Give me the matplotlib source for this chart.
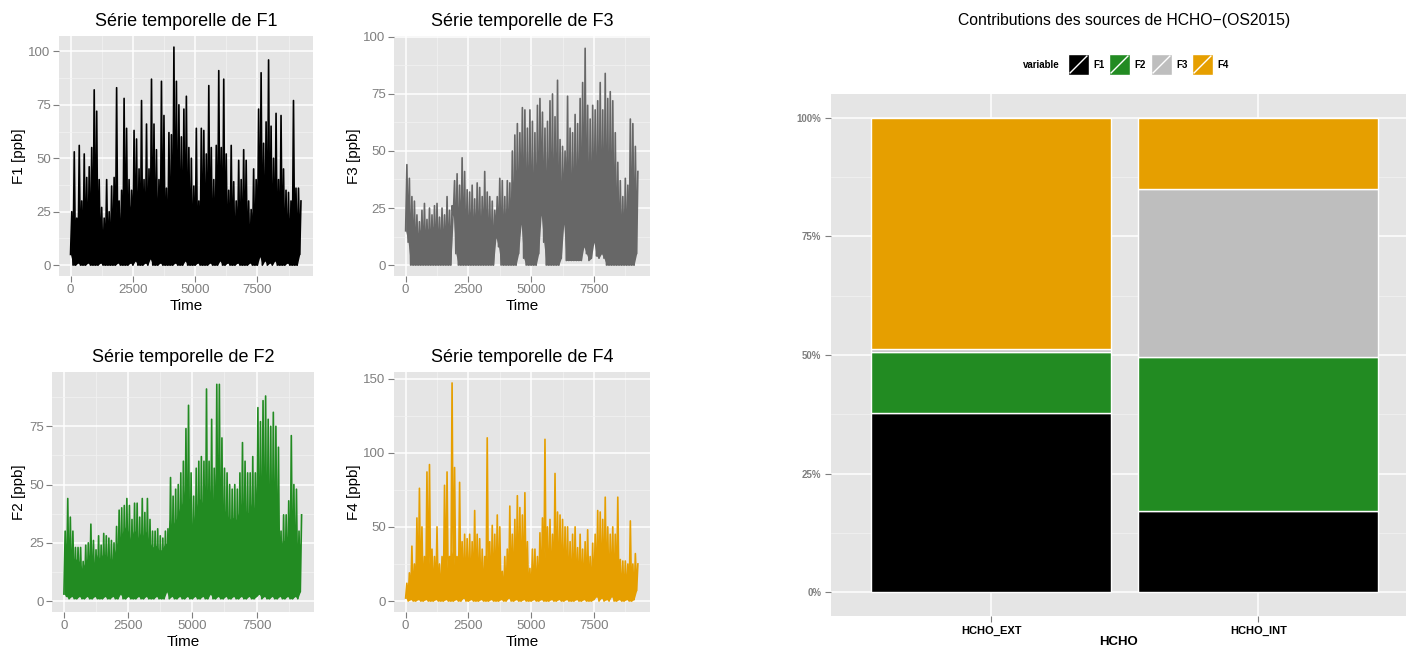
import numpy as np
import matplotlib.pyplot as plt
from matplotlib.patches import Rectangle
from matplotlib.lines import Line2D
from matplotlib.ticker import MultipleLocator, FixedLocator

plt.rcParams['font.family'] = ['Liberation Sans', 'DejaVu Sans']

# sample times (one bin every 100 steps)
time = np.arange(0, 9300, 100)

# per bin: highest spike, lowest value and top of the dense band
f1_peak = [25, 53, 22, 56, 30, 52, 41, 46, 55, 82, 72, 40, 27, 22, 40, 25, 37, 41, 83, 30,
           35, 78, 64, 40, 35, 63, 59, 45, 77, 40, 66, 45, 87, 66, 54, 40, 86, 70, 36, 62,
           61, 102, 86, 75, 60, 73, 79, 55, 50, 37, 64, 30, 64, 63, 52, 84, 55, 40, 56, 91,
           55, 87, 52, 35, 56, 39, 30, 49, 40, 54, 49, 30, 26, 45, 40, 73, 90, 57, 67, 96,
           65, 50, 71, 40, 70, 45, 35, 34, 30, 77, 36, 36, 30]
f1_low = [5, 0, 0, 1, 0, 0, 0, 1, 0, 0, 0, 0, 1, 0, 0, 0, 0, 0, 0, 1,
          0, 0, 0, 0, 1, 0, 2, 0, 0, 0, 1, 0, 3, 0, 0, 0, 1, 0, 0, 0,
          0, 0, 1, 0, 0, 0, 2, 0, 0, 0, 0, 1, 0, 0, 0, 0, 1, 0, 0, 0,
          2, 0, 0, 1, 0, 0, 0, 1, 0, 0, 0, 0, 1, 0, 0, 0, 4, 0, 2, 0,
          1, 0, 2, 0, 0, 0, 0, 1, 0, 0, 0, 0, 5]
f1_band = [22, 20, 18, 22, 20, 24, 20, 22, 26, 30, 28, 20, 18, 16, 20, 18, 20, 22, 30, 18,
           20, 35, 30, 25, 28, 35, 32, 30, 35, 30, 35, 30, 40, 38, 35, 30, 40, 35, 22, 30,
           35, 50, 45, 40, 40, 45, 42, 35, 30, 25, 30, 22, 30, 35, 30, 35, 30, 25, 35, 45,
           40, 45, 35, 25, 30, 25, 20, 28, 25, 30, 28, 20, 18, 25, 25, 40, 45, 40, 42, 50,
           45, 35, 40, 30, 35, 28, 25, 22, 22, 30, 25, 22, 20]

f2_peak = [30, 44, 36, 30, 23, 23, 23, 17, 24, 25, 33, 26, 22, 28, 24, 29, 28, 27, 26, 25,
           32, 39, 40, 41, 44, 41, 35, 42, 42, 36, 44, 38, 44, 35, 30, 30, 31, 28, 27, 30,
           31, 53, 45, 48, 50, 55, 60, 74, 84, 55, 45, 57, 60, 62, 60, 91, 60, 78, 57, 93,
           93, 70, 57, 55, 50, 48, 50, 48, 55, 68, 60, 55, 55, 62, 55, 83, 77, 86, 88, 78,
           75, 81, 75, 66, 30, 37, 37, 43, 71, 50, 48, 30, 37]
f2_low = [3, 2, 1, 2, 1, 1, 2, 1, 1, 2, 1, 1, 2, 1, 1, 1, 2, 1, 1, 2,
          1, 1, 3, 1, 1, 2, 1, 1, 1, 2, 1, 1, 2, 1, 1, 1, 2, 1, 1, 1,
          4, 1, 2, 1, 1, 2, 1, 1, 2, 1, 1, 2, 1, 1, 2, 1, 1, 3, 1, 1,
          2, 1, 1, 2, 1, 1, 2, 1, 1, 2, 1, 1, 2, 1, 1, 2, 3, 1, 2, 1,
          1, 2, 1, 1, 2, 1, 1, 2, 1, 1, 2, 1, 4]
f2_band = [22, 25, 25, 20, 18, 18, 17, 14, 16, 18, 20, 18, 16, 20, 18, 20, 20, 19, 18, 18,
           22, 26, 28, 30, 32, 30, 26, 30, 30, 27, 30, 28, 30, 26, 24, 23, 24, 22, 22, 24,
           25, 35, 32, 34, 36, 40, 42, 48, 50, 38, 32, 38, 42, 44, 42, 50, 42, 48, 40, 55,
           55, 45, 40, 38, 36, 35, 36, 35, 38, 42, 40, 38, 38, 42, 40, 50, 50, 55, 55, 50,
           50, 52, 48, 42, 22, 26, 26, 28, 38, 32, 30, 22, 25]

f3_peak = [44, 38, 30, 28, 22, 19, 24, 27, 20, 25, 22, 26, 27, 21, 25, 22, 30, 24, 26, 37,
           40, 35, 47, 41, 33, 32, 35, 29, 36, 34, 30, 41, 32, 30, 28, 24, 30, 38, 37, 30,
           37, 36, 50, 57, 62, 58, 69, 68, 60, 68, 63, 58, 70, 73, 67, 60, 63, 72, 75, 65,
           81, 55, 52, 50, 74, 60, 58, 66, 62, 73, 80, 95, 70, 64, 70, 68, 72, 80, 68, 84,
           73, 76, 72, 58, 45, 37, 30, 38, 35, 64, 62, 52, 41]
f3_low = [15, 10, 0, 0, 0, 0, 0, 0, 0, 0, 0, 0, 0, 0, 0, 0, 0, 0, 0, 22,
          5, 0, 0, 0, 0, 0, 0, 0, 0, 0, 0, 0, 0, 0, 0, 0, 12, 8, 0, 0,
          0, 0, 0, 0, 0, 5, 18, 3, 0, 0, 0, 0, 0, 5, 22, 10, 0, 0, 0, 0,
          0, 0, 3, 18, 2, 2, 2, 2, 2, 2, 2, 8, 5, 2, 3, 10, 4, 3, 5, 3,
          0, 0, 0, 0, 0, 0, 0, 0, 0, 0, 0, 0, 5]
f3_band = [30, 25, 20, 18, 15, 14, 16, 17, 14, 16, 15, 17, 17, 14, 16, 15, 18, 16, 18, 26,
           28, 25, 30, 28, 22, 22, 24, 20, 24, 22, 20, 26, 22, 20, 18, 16, 20, 25, 25, 20,
           25, 24, 32, 38, 42, 40, 45, 45, 40, 45, 42, 40, 45, 48, 45, 40, 42, 48, 50, 44,
           50, 38, 35, 35, 48, 40, 40, 44, 42, 48, 52, 55, 46, 42, 46, 45, 48, 52, 45, 52,
           48, 50, 46, 38, 30, 25, 20, 25, 22, 38, 38, 32, 25]

f4_peak = [12, 19, 37, 25, 56, 76, 50, 30, 87, 92, 35, 30, 50, 25, 30, 78, 87, 30, 147, 90,
           30, 80, 40, 45, 42, 45, 40, 61, 45, 42, 35, 30, 110, 40, 51, 45, 58, 50, 20, 30,
           35, 64, 45, 55, 71, 63, 58, 73, 40, 22, 35, 35, 30, 46, 56, 109, 50, 55, 45, 86,
           60, 58, 55, 50, 50, 40, 45, 50, 36, 45, 35, 40, 48, 30, 39, 45, 61, 60, 55, 70,
           50, 45, 50, 45, 70, 28, 27, 27, 25, 54, 25, 32, 25]
f4_low = [2, 0, 1, 0, 0, 1, 0, 0, 1, 0, 0, 0, 1, 0, 0, 0, 1, 0, 0, 0,
          1, 0, 0, 2, 0, 0, 1, 0, 0, 0, 1, 0, 0, 0, 1, 0, 0, 0, 1, 0,
          0, 2, 0, 0, 1, 0, 0, 1, 0, 0, 0, 1, 0, 0, 1, 0, 0, 0, 1, 0,
          0, 1, 0, 0, 1, 0, 0, 0, 1, 0, 0, 1, 0, 0, 0, 1, 3, 0, 2, 0,
          1, 0, 3, 0, 0, 1, 0, 0, 1, 0, 0, 1, 7]
f4_band = [10, 12, 18, 15, 22, 28, 22, 18, 30, 30, 20, 18, 22, 15, 18, 28, 30, 18, 35, 30,
           18, 28, 22, 25, 24, 25, 24, 30, 25, 24, 22, 18, 35, 24, 28, 26, 30, 26, 12, 18,
           20, 30, 25, 28, 32, 30, 28, 32, 22, 14, 20, 20, 18, 25, 28, 35, 26, 28, 25, 32,
           28, 28, 26, 25, 25, 22, 24, 25, 20, 24, 20, 22, 24, 18, 22, 24, 28, 28, 26, 30,
           25, 24, 25, 24, 28, 16, 16, 16, 15, 24, 15, 18, 15]

# stacked shares for the bar chart
sources = ["HCHO_EXT", "HCHO_INT"]
variables = ["F1", "F2", "F3", "F4"]
share_ext = [0.378, 0.129, 0.005, 0.488]
share_int = [0.171, 0.325, 0.354, 0.150]

colors = {"F1": "black", "F2": "#228B22", "F3": "#BEBEBE", "F4": "#E69F00"}
line_colors = {"F1": "black", "F2": "#228B22", "F3": "#676767", "F4": "#E69F00"}

W, H = 1406, 648
fig = plt.figure(figsize=(W / 100, H / 100), dpi=100)


def px_axes(left, top, right, bottom):
    return fig.add_axes([left / W, 1 - bottom / H, (right - left) / W, (bottom - top) / H])


def zigzag(t, low, peak):
    x = np.column_stack([t, t + 50]).ravel()
    y = np.column_stack([low, peak]).ravel()
    return x, y


def grey_panel(ax):
    ax.set_facecolor('#E5E5E5')
    for s in ax.spines.values():
        s.set_visible(False)
    ax.grid(which='major', color='white', lw=1.1)
    ax.grid(which='minor', color='#F2F2F2', lw=0.5)
    ax.set_axisbelow(True)


def time_panel(box, name, peak, low, band, ylim, ystep):
    ax = px_axes(*box)
    c = line_colors[name]
    ax.fill_between(time, low, band, color=c, lw=0)
    x, y = zigzag(time, low, peak)
    ax.plot(x, y, color=c, lw=1.2)
    grey_panel(ax)
    ax.set_xlim(-463, 9733)
    ax.set_ylim(*ylim)
    ax.xaxis.set_major_locator(MultipleLocator(2500))
    ax.xaxis.set_minor_locator(MultipleLocator(1250))
    ax.yaxis.set_major_locator(MultipleLocator(ystep))
    ax.yaxis.set_minor_locator(MultipleLocator(ystep / 2))
    ax.tick_params(which='major', colors='#7F7F7F', labelsize=9.5, length=4, width=0.8, pad=2)
    ax.tick_params(which='minor', length=0)
    ax.set_title("Série temporelle de " + name, fontsize=13, pad=7)
    ax.set_xlabel("Time", fontsize=11, labelpad=2)
    ax.set_ylabel(name + " [ppb]", fontsize=11, labelpad=2)
    return ax


time_panel((59, 36, 313, 276), "F1", f1_peak, f1_low, f1_band, (-5.1, 107.2), 25)
time_panel((394, 36, 650, 276), "F3", f3_peak, f3_low, f3_band, (-4.8, 100.4), 25)
time_panel((52, 372, 314, 612), "F2", f2_peak, f2_low, f2_band, (-4.7, 98.3), 25)
time_panel((394, 372, 650, 612), "F4", f4_peak, f4_low, f4_band, (-7.4, 154.4), 50)

# stacked bar chart
ax = px_axes(831, 94, W, 616)
grey_panel(ax)
xpos = np.arange(1, len(sources) + 1)
bottom = np.zeros(len(sources))
for k, v in enumerate(variables):
    vals = np.array([share_ext[k], share_int[k]])
    ax.bar(xpos, vals, width=0.9, bottom=bottom, color=colors[v], edgecolor='white', lw=1.0)
    bottom += vals
ax.set_xlim(0.4, 0.4 + (W - 831) / 267)
ax.set_ylim(-0.0506, 1.0506)
ax.set_xticks(xpos)
ax.set_xticklabels(sources, fontsize=8, fontweight='bold')
ax.yaxis.set_major_locator(FixedLocator([0, 0.25, 0.5, 0.75, 1.0]))
ax.yaxis.set_minor_locator(FixedLocator([0.125, 0.375, 0.625, 0.875]))
ax.set_yticklabels(["0%", "25%", "50%", "75%", "100%"], fontsize=7, fontweight='bold', color='#7F7F7F')
ax.xaxis.grid(False, which='minor')
ax.tick_params(which='major', color='#7F7F7F', length=4, width=0.8, pad=3)
ax.tick_params(which='minor', length=0)
ax.set_xlabel("HCHO", fontsize=9.5, fontweight='bold', labelpad=0)

fig.text(1124 / W, 1 - 21 / H, "Contributions des sources de HCHO\u2212(OS2015)",
         ha='center', va='center', fontsize=11.3)

# legend
fig.text(1060 / W, 1 - 65 / H, "variable", ha='right', va='center', fontsize=7, fontweight='bold')
key_x = [1068, 1109, 1151, 1192]
for kx, v in zip(key_x, variables):
    x0, y0 = kx / W, 1 - 75 / H
    w, h = 21 / W, 21 / H
    fig.add_artist(Rectangle((x0, y0), w, h, transform=fig.transFigure,
                             facecolor=colors[v], edgecolor='white', lw=1.0))
    fig.add_artist(Line2D([x0 + 0.1 * w, x0 + 0.9 * w], [y0 + 0.1 * h, y0 + 0.9 * h],
                          transform=fig.transFigure, color='white', lw=1.0))
    fig.text((kx + 25) / W, 1 - 65 / H, v, ha='left', va='center', fontsize=7, fontweight='bold')

fig.savefig("out.png", dpi=100)
